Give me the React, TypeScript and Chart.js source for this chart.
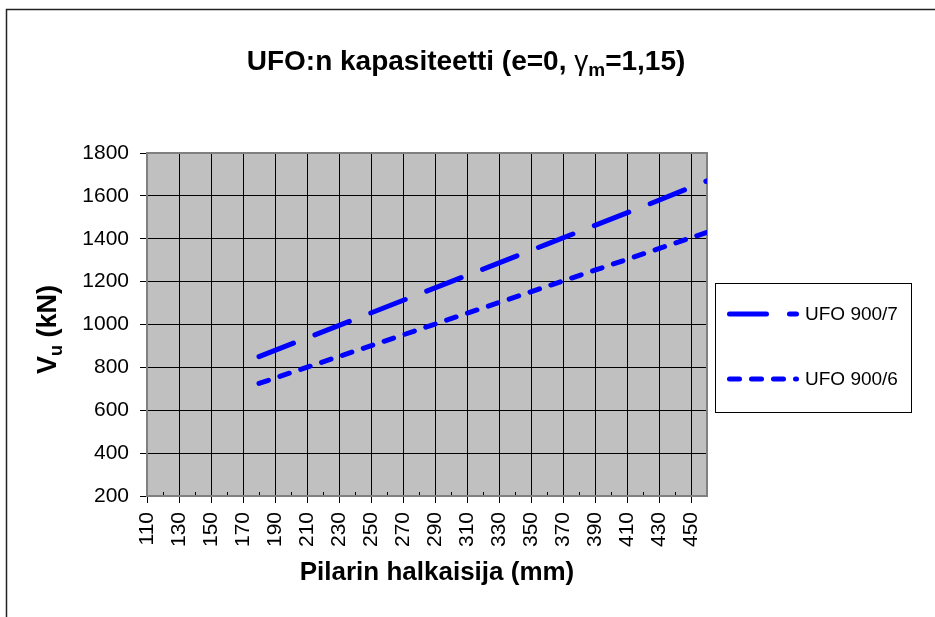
import { useEffect, useRef } from 'react';
import { Chart, registerables } from 'chart.js';

Chart.register(...registerables);

// ---- data ----
const diameters = [180, 240, 300, 360, 420, 460];
const ufo7 = [850, 1025, 1200, 1375, 1550, 1670];
const ufo6 = [725, 876, 1027, 1178, 1329, 1430];
const seriesNames = ['UFO 900/7', 'UFO 900/6'];
const xMin = 110;
const xMax = 460;
const xLabelTicks = [110, 130, 150, 170, 190, 210, 230, 250, 270, 290, 310, 330, 350, 370, 390, 410, 430, 450];
const yTicks = [200, 400, 600, 800, 1000, 1200, 1400, 1600, 1800];
const titleParts = ['UFO:n kapasiteetti (e=0, ', 'γ', 'm', '=1,15)'];
const yTitleParts = ['V', 'u', ' (kN)'];
const xTitle = 'Pilarin halkaisija (mm)';

const FONT = "'Liberation Sans', Arial, sans-serif";

type Part = { t: string; size: number; weight: string; dy: number };

function drawRich(ctx: CanvasRenderingContext2D, parts: Part[], cx: number, cy: number, mainSize: number) {
  let total = 0;
  for (const p of parts) {
    ctx.font = `${p.weight} ${p.size}px ${FONT}`;
    total += ctx.measureText(p.t).width;
  }
  let x = cx - total / 2;
  const baseline = cy + mainSize * 0.36;
  ctx.textBaseline = 'alphabetic';
  ctx.textAlign = 'left';
  for (const p of parts) {
    ctx.font = `${p.weight} ${p.size}px ${FONT}`;
    ctx.fillText(p.t, x, baseline + p.dy);
    x += ctx.measureText(p.t).width;
  }
}

const decorPlugin = {
  id: 'decor',
  beforeDraw(chart: any) {
    const { ctx, chartArea: a } = chart;
    ctx.save();
    // outer frame (cropped)
    ctx.strokeStyle = '#222';
    ctx.lineWidth = 1.5;
    ctx.beginPath();
    ctx.moveTo(6.5, 617);
    ctx.lineTo(6.5, 9.5);
    ctx.lineTo(935, 9.5);
    ctx.stroke();
    // plot background
    ctx.fillStyle = '#C0C0C0';
    ctx.fillRect(a.left, a.top, a.right - a.left, a.bottom - a.top);
    ctx.restore();
  },
  beforeDatasetsDraw(chart: any) {
    const { ctx, chartArea: a, scales } = chart;
    const xs = scales.x;
    ctx.save();
    // minor tick marks inside
    ctx.strokeStyle = '#000';
    ctx.lineWidth = 1;
    ctx.beginPath();
    for (let v = xMin; v <= xMax; v += 10) {
      if (xLabelTicks.includes(v)) continue;
      const px = Math.round(xs.getPixelForValue(v)) + 0.5;
      ctx.moveTo(px, a.bottom);
      ctx.lineTo(px, a.bottom - 4);
    }
    ctx.stroke();
    // plot border
    ctx.strokeStyle = '#808080';
    ctx.lineWidth = 2;
    ctx.strokeRect(a.left, a.top, a.right - a.left, a.bottom - a.top);
    ctx.restore();
  },
  afterDraw(chart: any) {
    const { ctx, chartArea: a } = chart;
    ctx.save();
    ctx.fillStyle = '#000';
    // title
    drawRich(
      ctx,
      [
        { t: titleParts[0], size: 28, weight: 'bold', dy: 0 },
        { t: titleParts[1], size: 28, weight: 'normal', dy: 0 },
        { t: titleParts[2], size: 19, weight: 'bold', dy: 6 },
        { t: titleParts[3], size: 28, weight: 'bold', dy: 0 },
      ],
      466,
      60,
      28
    );
    // x title
    drawRich(ctx, [{ t: xTitle, size: 26, weight: 'bold', dy: 0 }], 437, 571, 26);
    // y title
    ctx.save();
    ctx.translate(46, (a.top + a.bottom) / 2 + 5);
    ctx.rotate(-Math.PI / 2);
    drawRich(
      ctx,
      [
        { t: yTitleParts[0], size: 27, weight: 'bold', dy: 0 },
        { t: yTitleParts[1], size: 18, weight: 'bold', dy: 6 },
        { t: yTitleParts[2], size: 27, weight: 'bold', dy: 0 },
      ],
      0,
      0,
      27
    );
    ctx.restore();
    // legend
    const lx = 715, ly = 283, lw = 196, lh = 129;
    ctx.fillStyle = '#fff';
    ctx.fillRect(lx, ly, lw, lh);
    ctx.strokeStyle = '#000';
    ctx.lineWidth = 1;
    ctx.strokeRect(lx + 0.5, ly + 0.5, lw, lh);
    const rowsY = [314, 379];
    chart.data.datasets.forEach((ds: any, i: number) => {
      const y = rowsY[i];
      ctx.save();
      ctx.strokeStyle = ds.borderColor;
      ctx.lineWidth = ds.borderWidth;
      ctx.lineCap = 'round';
      ctx.setLineDash(ds.borderDash);
      ctx.beginPath();
      ctx.moveTo(729.5, y);
      ctx.lineTo(796.5, y);
      ctx.stroke();
      ctx.restore();
      ctx.fillStyle = '#000';
      ctx.font = `19px ${FONT}`;
      ctx.textAlign = 'left';
      ctx.textBaseline = 'middle';
      ctx.fillText(ds.label, 805, y + 1);
    });
    ctx.restore();
  },
};

export default function App() {
  const ref = useRef<HTMLCanvasElement | null>(null);

  useEffect(() => {
    if (!ref.current) return;
    const isMajor = (v: number) => xLabelTicks.includes(v);
    const chart = new Chart(ref.current, {
      type: 'line',
      data: {
        datasets: [
          {
            label: seriesNames[0],
            data: diameters.map((d, i) => ({ x: d, y: ufo7[i] })),
            borderColor: '#0000FF',
            borderWidth: 5,
            borderDash: [37, 23],
            borderCapStyle: 'round',
            pointRadius: 0,
            fill: false,
            tension: 0,
          },
          {
            label: seriesNames[1],
            data: diameters.map((d, i) => ({ x: d, y: ufo6[i] })),
            borderColor: '#0000FF',
            borderWidth: 5,
            borderDash: [10, 12],
            borderCapStyle: 'round',
            pointRadius: 0,
            fill: false,
            tension: 0,
          },
        ],
      },
      options: {
        animation: false,
        responsive: false,
        maintainAspectRatio: false,
        events: [],
        layout: { padding: { left: 0, top: 153, right: 228, bottom: 0 } },
        plugins: {
          legend: { display: false },
          title: { display: false },
          tooltip: { enabled: false },
        },
        scales: {
          x: {
            type: 'linear',
            min: xMin,
            max: xMax,
            afterFit: (s: any) => {
              s.height = 617 - 496;
            },
            afterBuildTicks: (s: any) => {
              const t = [];
              for (let v = xMin; v <= xMax; v += 10) t.push({ value: v });
              s.ticks = t;
            },
            border: { display: false },
            grid: {
              color: (c: any) => (c.tick && isMajor(c.tick.value) ? '#000' : 'rgba(0,0,0,0)'),
              tickColor: (c: any) => (c.tick && isMajor(c.tick.value) ? '#000' : 'rgba(0,0,0,0)'),
              lineWidth: 1,
              tickLength: 7,
              drawTicks: true,
            },
            ticks: {
              autoSkip: false,
              minRotation: 90,
              maxRotation: 90,
              padding: 9,
              color: '#000',
              font: { family: FONT, size: 21 },
              callback: (v: any) => (isMajor(Number(v)) ? String(v) : ''),
            },
          },
          y: {
            type: 'linear',
            min: yTicks[0],
            max: yTicks[yTicks.length - 1],
            afterFit: (s: any) => {
              s.width = 147;
            },
            afterBuildTicks: (s: any) => {
              s.ticks = yTicks.map((v) => ({ value: v }));
            },
            border: { display: false },
            grid: {
              color: '#000',
              tickColor: '#000',
              lineWidth: 1,
              tickLength: 7,
            },
            ticks: {
              padding: 11,
              color: '#000',
              font: { family: FONT, size: 21 },
              callback: (v: any) => String(v),
            },
          },
        },
      },
      plugins: [decorPlugin],
    } as any);
    return () => chart.destroy();
  }, []);

  return (
    <div style={{ position: 'absolute', left: 0, top: 0, width: 935, height: 617, background: '#fff' }}>
      <canvas ref={ref} width={935} height={617} style={{ display: 'block' }} />
    </div>
  );
}
